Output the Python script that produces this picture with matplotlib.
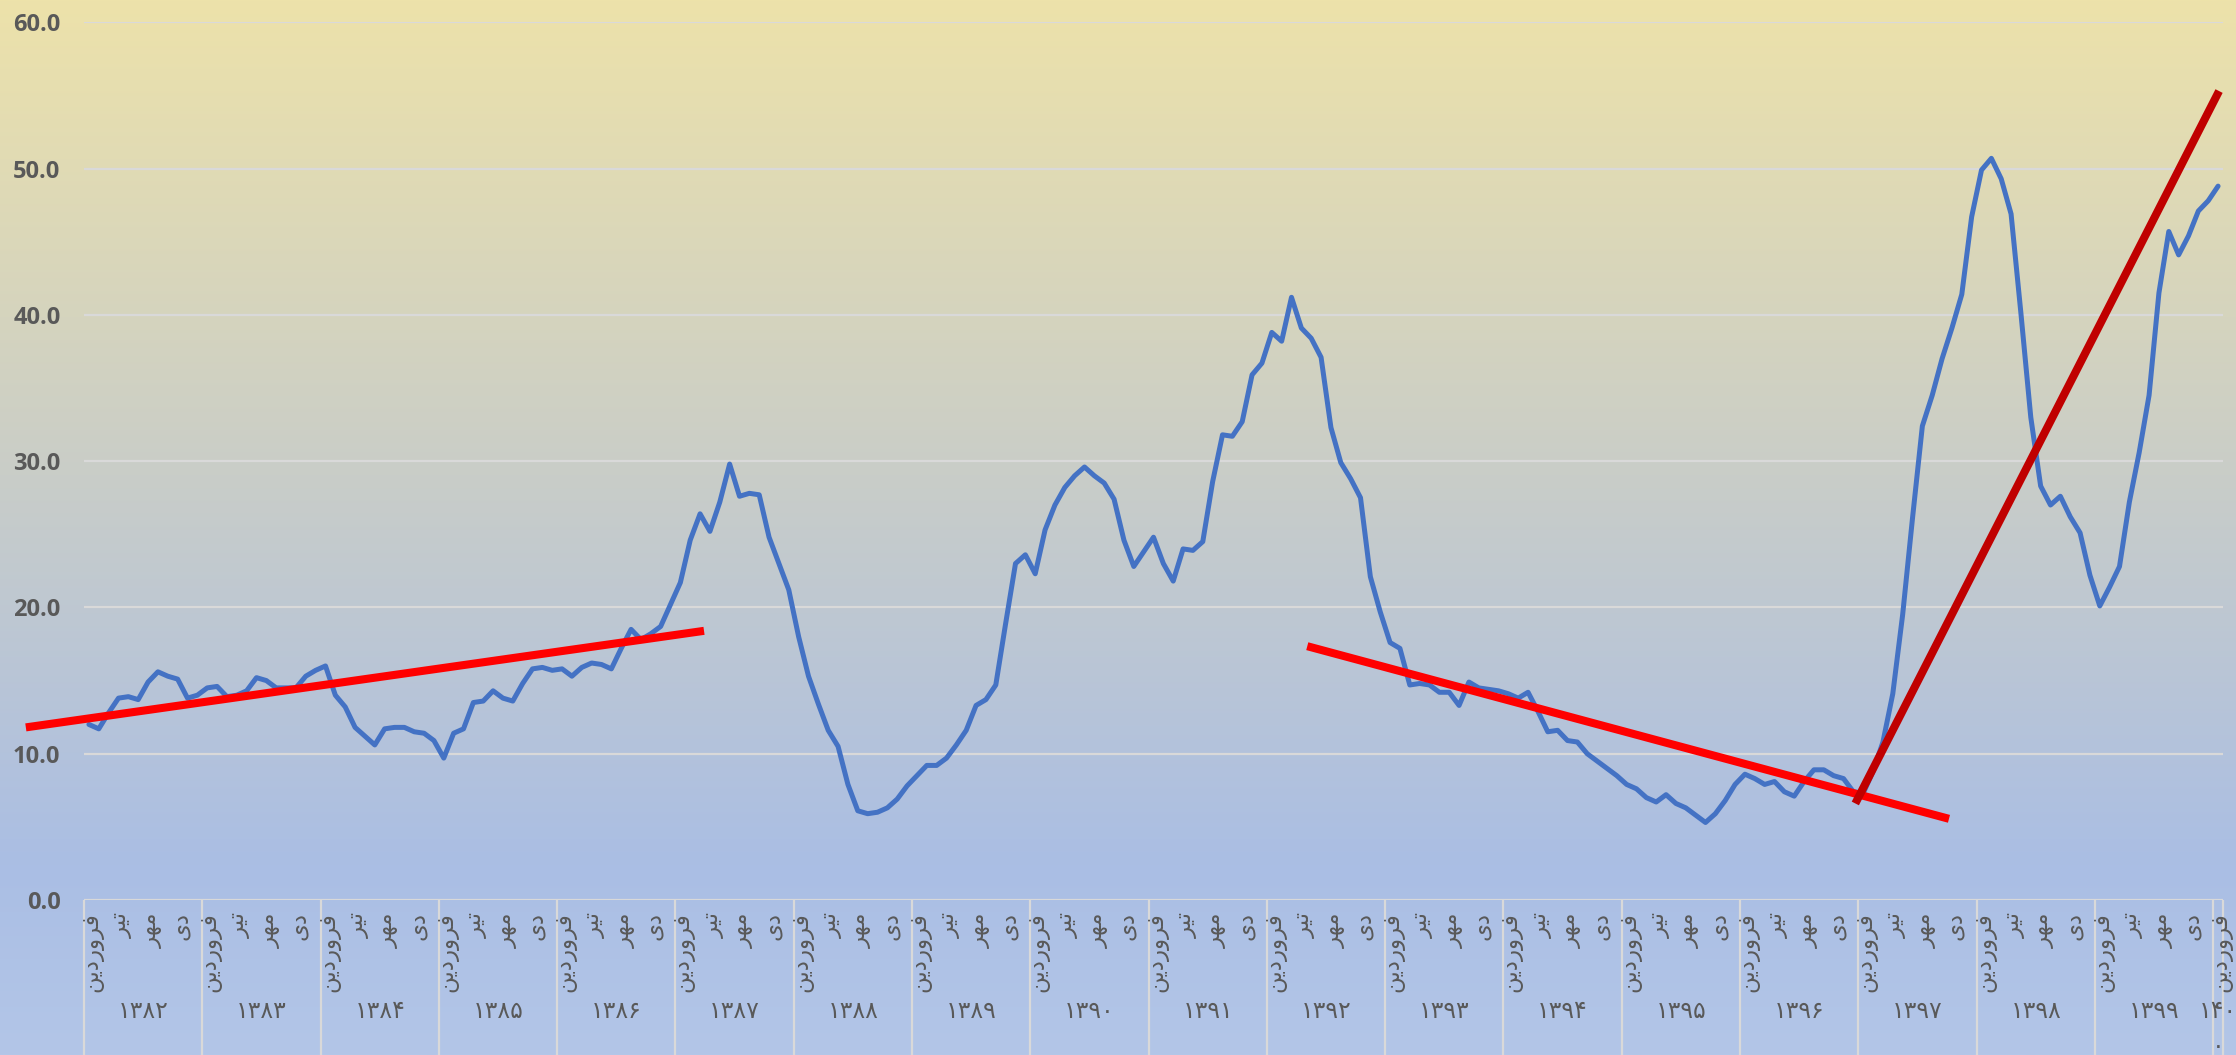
import numpy as np
import matplotlib
matplotlib.use("Agg")
import matplotlib.pyplot as plt
from matplotlib.transforms import blended_transform_factory

# ---------------- data ----------------
years = ["۱۳۸۲", "۱۳۸۳", "۱۳۸۴", "۱۳۸۵", "۱۳۸۶", "۱۳۸۷", "۱۳۸۸", "۱۳۸۹", "۱۳۹۰",
         "۱۳۹۱", "۱۳۹۲", "۱۳۹۳", "۱۳۹۴", "۱۳۹۵", "۱۳۹۶", "۱۳۹۷", "۱۳۹۸", "۱۳۹۹", "۱۴۰۰"]
# quarter month labels (فروردین, تیر, مهر, دی) – written in shaped/visual form
month_names = ["فروردین", "تیر", "مهر", "دی"]
month_visual = ["\uFEE6\uFEF3\uFEA9\uFEAD\uFEED\uFEAE\uFED3",
                "\uFEAE\uFEF4\uFE97",
                "\uFEAE\uFEEC\uFEE3",
                "\uFEEF\uFEA9"]

v1382 = [12.0, 11.7, 12.8, 13.8, 13.9, 13.7, 14.9, 15.6, 15.3, 15.1, 13.8, 14.0]
v1383 = [14.5, 14.6, 13.9, 14.0, 14.3, 15.2, 15.0, 14.5, 14.5, 14.5, 15.3, 15.7]
v1384 = [16.0, 14.0, 13.2, 11.8, 11.2, 10.6, 11.7, 11.8, 11.8, 11.5, 11.4, 10.9]
v1385 = [9.7, 11.4, 11.7, 13.5, 13.6, 14.3, 13.8, 13.6, 14.8, 15.8, 15.9, 15.7]
v1386 = [15.8, 15.3, 15.9, 16.2, 16.1, 15.8, 17.2, 18.5, 17.8, 18.2, 18.7, 20.2]
v1387 = [21.7, 24.6, 26.4, 25.2, 27.2, 29.8, 27.6, 27.8, 27.7, 24.8, 23.0, 21.2]
v1388 = [18.0, 15.3, 13.4, 11.6, 10.5, 7.9, 6.1, 5.9, 6.0, 6.3, 6.9, 7.8]
v1389 = [8.5, 9.2, 9.2, 9.7, 10.6, 11.6, 13.3, 13.7, 14.7, 18.9, 23.0, 23.6]
v1390 = [22.3, 25.3, 27.0, 28.2, 29.0, 29.6, 29.0, 28.5, 27.4, 24.6, 22.8, 23.8]
v1391 = [24.8, 23.0, 21.8, 24.0, 23.9, 24.5, 28.6, 31.8, 31.7, 32.7, 35.9, 36.7]
v1392 = [38.8, 38.2, 41.2, 39.1, 38.4, 37.1, 32.3, 29.9, 28.8, 27.5, 22.1, 19.7]
v1393 = [17.6, 17.2, 14.7, 14.8, 14.7, 14.2, 14.2, 13.3, 14.9, 14.5, 14.4, 14.3]
v1394 = [14.1, 13.8, 14.2, 12.9, 11.5, 11.6, 10.9, 10.8, 10.0, 9.5, 9.0, 8.5]
v1395 = [7.9, 7.6, 7.0, 6.7, 7.2, 6.6, 6.3, 5.8, 5.3, 5.9, 6.8, 7.9]
v1396 = [8.6, 8.3, 7.9, 8.1, 7.4, 7.1, 8.1, 8.9, 8.9, 8.5, 8.3, 7.4]
v1397 = [7.3, 8.8, 10.8, 14.1, 19.5, 26.1, 32.4, 34.5, 37.0, 39.1, 41.4, 46.7]
v1398 = [49.9, 50.7, 49.3, 46.9, 40.1, 33.0, 28.3, 27.0, 27.6, 26.2, 25.1, 22.2]
v1399 = [20.1, 21.4, 22.8, 27.2, 30.6, 34.5, 41.5, 45.7, 44.1, 45.4, 47.1, 47.8]
v1400 = [48.8]

# hand-drawn trend lines: (month index, value) endpoints
trend1_x = [-6.4, 62.4]
trend1_y = [11.8, 18.4]
trend2_x = [123.6, 188.7]
trend2_y = [17.35, 5.55]
trend3_x = [179.2, 216.1]
trend3_y = [6.6, 55.3]

y_ticks = [0, 10, 20, 30, 40, 50, 60]

values = (v1382 + v1383 + v1384 + v1385 + v1386 + v1387 + v1388 + v1389 + v1390 +
          v1391 + v1392 + v1393 + v1394 + v1395 + v1396 + v1397 + v1398 + v1399 + v1400)
n = len(values)
xs = np.arange(n)

# ---------------- figure ----------------
W, H = 2236, 1055
fig = plt.figure(figsize=(W / 100, H / 100), dpi=100)

# gradient background
bg = fig.add_axes([0, 0, 1, 1], zorder=-10)
stops = [(0.0, (237, 226, 170)), (0.45, (201, 205, 200)), (0.82, (170, 190, 228)), (1.0, (179, 198, 232))]
t = np.linspace(0, 1, 512)
cols = np.zeros((512, 3))
for c in range(3):
    cols[:, c] = np.interp(t, [s[0] for s in stops], [s[1][c] for s in stops]) / 255
grad = cols[:, None, :]
bg.imshow(grad, aspect="auto", extent=[0, 1, 0, 1], origin="upper")
bg.set_axis_off()

left_px, right_px, top_px, bottom_px = 84, 2223, 22.3, 900
ax = fig.add_axes([left_px / W, 1 - bottom_px / H, (right_px - left_px) / W, (bottom_px - top_px) / H])
ax.set_facecolor("none")
for s in ax.spines.values():
    s.set_visible(False)

ax.set_xlim(-0.5, n - 0.5)
ax.set_ylim(0, 60)
ax.set_yticks(y_ticks)
ax.set_yticklabels([f"{v:.1f}" for v in y_ticks], fontfamily="Open Sans", fontweight="bold",
                   fontsize=17, color="#595959")
ax.tick_params(axis="y", length=0, pad=17)
ax.set_xticks([])
for v in y_ticks:
    ax.axhline(v, color="#D9D9D9", lw=1.6, zorder=1)

# data line
ax.plot(xs, values, color="#4472C4", lw=3.6, solid_joinstyle="round", solid_capstyle="round", zorder=3)

# trend lines
ax.plot(trend1_x, trend1_y, color="#FF0000", lw=5.8, solid_capstyle="butt", clip_on=False, zorder=4)
ax.plot(trend2_x, trend2_y, color="#FF0000", lw=5.8, solid_capstyle="butt", clip_on=False, zorder=4)
ax.plot(trend3_x, trend3_y, color="#C00000", lw=5.8, solid_capstyle="butt", clip_on=False, zorder=5)

# category axis (two levels)
tr = blended_transform_factory(ax.transData, fig.transFigure)
axis_bottom = 1 - bottom_px / H
bounds = list(np.arange(-0.5, n, 12)) + [n - 0.5]
ax.vlines(bounds, 0, axis_bottom, transform=tr, colors="#D9D9D9", lw=1.6, clip_on=False)

month_top = 1 - 912 / H
for i in range(n):
    if i % 3 == 0:
        ax.text(i + 0.3, month_top, month_visual[(i % 12) // 3], transform=tr, rotation=90,
                ha="center", va="top", fontsize=16.5, color="#595959", fontfamily="DejaVu Sans",
                clip_on=False)

year_y = 1 - 1011 / H
for k, yl in enumerate(years):
    start = 12 * k
    end = min(12 * k + 11, n - 1)
    cx = (start + end) / 2
    if end - start < 11:
        ax.text(cx, year_y, yl[:3], transform=tr, ha="center", va="center", fontsize=17,
                color="#595959", fontfamily="DejaVu Sans", clip_on=False)
        ax.text(cx, 1 - 1046 / H, yl[3:], transform=tr, ha="center", va="center", fontsize=17,
                color="#595959", fontfamily="DejaVu Sans", clip_on=False)
    else:
        ax.text(cx, year_y, yl, transform=tr, ha="center", va="center", fontsize=17,
                color="#595959", fontfamily="DejaVu Sans", clip_on=False)

fig.savefig("out.png", dpi=100)
